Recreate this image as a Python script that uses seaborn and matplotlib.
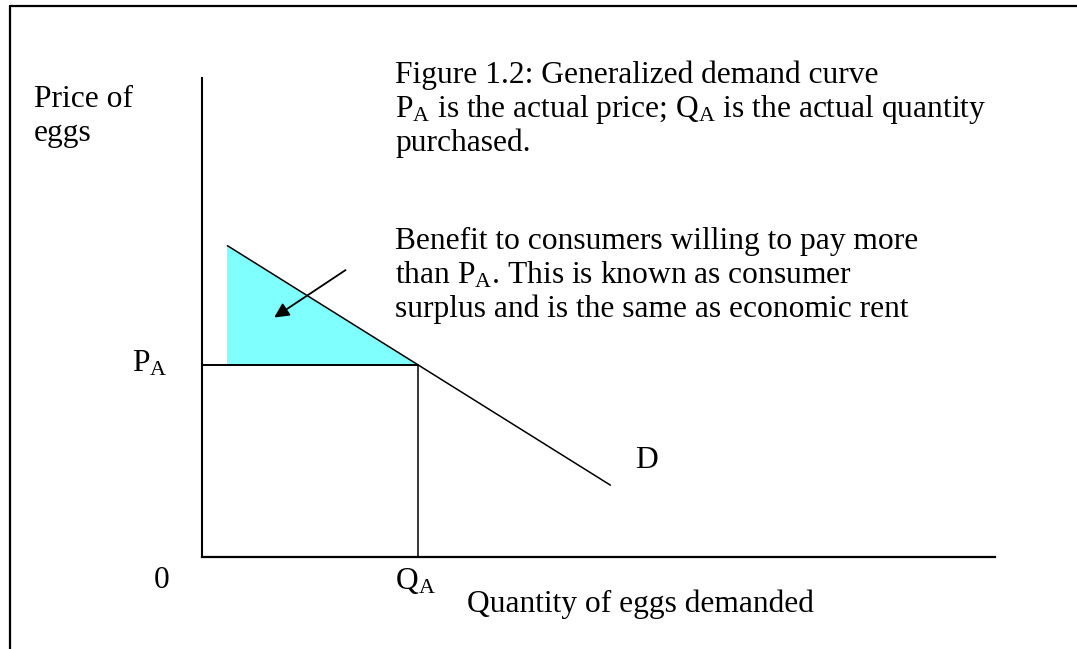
import numpy as np
import pandas as pd
import matplotlib
matplotlib.use("Agg")
import matplotlib.pyplot as plt
from matplotlib.lines import Line2D
import seaborn as sns

# Data (axis units 0-100 on both axes)
demand_q = [3.2, 51.5]
demand_p = [65, 15]
q_actual = 27.3
p_actual = 40
arrow_tail = (18.1, 59.9)
arrow_head = (9.1, 50.0)

title_lines = ["Figure 1.2: Generalized demand curve",
               "P$_{\\mathrm{A}}$ is the actual price; Q$_{\\mathrm{A}}$ is the actual quantity",
               "purchased."]
note_lines = ["Benefit to consumers willing to pay more",
              "than P$_{\\mathrm{A}}$. This is known as consumer",
              "surplus and is the same as economic rent"]

# Style
sns.set_theme(style="white")
plt.rcParams['font.family'] = ['Liberation Serif', 'DejaVu Serif']
plt.rcParams['mathtext.fontset'] = 'custom'
plt.rcParams['mathtext.rm'] = 'Liberation Serif'
plt.rcParams['mathtext.it'] = 'Liberation Serif:italic'
plt.rcParams['mathtext.bf'] = 'Liberation Serif:bold'

W, H = 1077, 649
fig = plt.figure(figsize=(W / 100, H / 100), dpi=100)
ax = fig.add_axes([202 / W, 1 - 557 / H, (995 - 202) / W, (557 - 78) / H])
ax.set_xlim(0, 100)
ax.set_ylim(0, 100)

# consumer surplus triangle
ax.fill([demand_q[0], demand_q[0], q_actual], [demand_p[0], p_actual, p_actual],
        color='#80FFFF', lw=0, zorder=1)

# demand curve and actual price / quantity lines
sns.lineplot(x=demand_q, y=demand_p, ax=ax, color='black', lw=1.1,
             estimator=None, sort=False, zorder=3)
sns.lineplot(x=[0, q_actual], y=[p_actual, p_actual], ax=ax, color='black', lw=1.4,
             estimator=None, sort=False, zorder=3)
sns.lineplot(x=[q_actual, q_actual], y=[0, p_actual], ax=ax, color='black', lw=1.1,
             estimator=None, sort=False, zorder=3)

ax.annotate('', xy=arrow_head, xytext=arrow_tail,
            arrowprops=dict(arrowstyle='-|>', color='black', lw=1.3,
                            mutation_scale=22, shrinkA=0, shrinkB=0), zorder=4)

sns.despine(ax=ax)
ax.spines['left'].set_linewidth(1.5)
ax.spines['bottom'].set_linewidth(1.6)
ax.spines['left'].set_color('black')
ax.spines['bottom'].set_color('black')
ax.set_xticks([])
ax.set_yticks([])
ax.patch.set_alpha(0)

# frame (top and left edges only, as in the cropped figure)
fig.add_artist(Line2D([10 / W, 10 / W], [1 - 6 / H, 0], transform=fig.transFigure,
                      color='black', lw=1.6))
fig.add_artist(Line2D([10 / W, 1], [1 - 6 / H, 1 - 6 / H], transform=fig.transFigure,
                      color='black', lw=1.6))

fs = 22.7


def put(x, y, s):
    fig.text(x / W, 1 - y / H, s, fontsize=fs, va='baseline', ha='left', color='black')


put(34, 107, "Price of")
put(34, 141, "eggs")
for i, line in enumerate(title_lines):
    put(395, 83 + 34 * i, line)
for i, line in enumerate(note_lines):
    put(395, 249 + 34 * i, line)
put(132, 371, "P$_{\\mathrm{A}}$")
put(635, 468, "D")
put(154, 588, "0")
put(395, 589, "Q$_{\\mathrm{A}}$")
put(467, 612, "Quantity of eggs demanded")

fig.savefig("out.png", dpi=100, facecolor='white')
